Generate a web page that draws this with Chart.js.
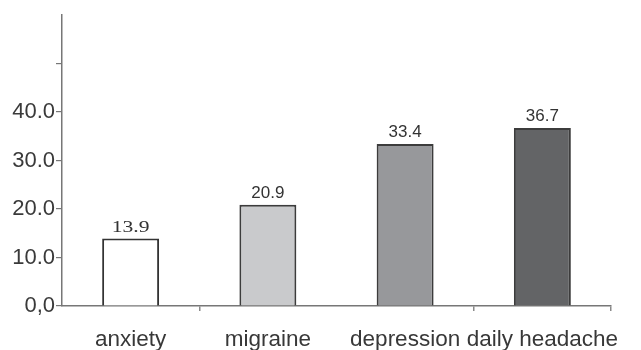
<!DOCTYPE html>
<html>
<head>
<meta charset="utf-8">
<script src="https://cdn.jsdelivr.net/npm/chart.js@4/dist/chart.umd.min.js"></script>
<style>
  html, body { margin: 0; padding: 0; background: #ffffff; }
  #wrap { width: 641px; height: 350px; }
</style>
</head>
<body>
<div id="wrap"><canvas id="chart" width="641" height="350"></canvas></div>
<script>
// Categories and their values
const categories = ['anxiety', 'migraine', 'depression', 'daily headache'];
const prevalence = [13.9, 20.9, 33.4, 36.7];
const valueLabels = ['13.9', '20.9', '33.4', '36.7'];

// Y axis ticks (only the lower five are labelled)
const yTickValues = [0, 10, 20, 30, 40, 50, 60];
const yTickLabels = ['0,0', '10.0', '20.0', '30.0', '40.0', '', ''];

const barFills = ['#ffffff', '#c9cacc', '#97989b', '#636466'];
const barEdges = ['#333333', '#3c3c3c', '#3c3c3c', '#3c3c3c'];
const sansFamily = '"Liberation Sans", Arial, sans-serif';
// The first value label is set in a wide serif face, the rest in sans
const valueStyles = [
  { font: '16px "Liberation Serif", serif', stretch: 1.35 },
  { font: '17px ' + sansFamily, stretch: 1 },
  { font: '17px ' + sansFamily, stretch: 1 },
  { font: '17px ' + sansFamily, stretch: 1 }
];

// Writes each bar's value just above it
const valueLabelPlugin = {
  id: 'valueLabels',
  afterDatasetsDraw(chart) {
    const ctx = chart.ctx;
    const meta = chart.getDatasetMeta(0);
    meta.data.forEach((bar, i) => {
      const st = valueStyles[i];
      ctx.save();
      ctx.fillStyle = '#333333';
      ctx.textAlign = 'center';
      ctx.textBaseline = 'bottom';
      ctx.font = st.font;
      ctx.translate(bar.x, bar.y - 3);
      ctx.scale(st.stretch, 1);
      ctx.fillText(valueLabels[i], 0, 0);
      ctx.restore();
    });
  }
};

new Chart(document.getElementById('chart'), {
  type: 'bar',
  data: {
    labels: categories,
    datasets: [{
      data: prevalence,
      backgroundColor: barFills,
      borderColor: barEdges,
      borderWidth: 2,
      borderSkipped: 'bottom',
      categoryPercentage: 1,
      barPercentage: 0.415
    }]
  },
  options: {
    responsive: false,
    animation: false,
    devicePixelRatio: 1,
    layout: { padding: { top: 15, right: 30, left: 0, bottom: 0 } },
    plugins: {
      legend: { display: false },
      tooltip: { enabled: false }
    },
    scales: {
      x: {
        offset: true,
        border: { display: true, color: '#777777', width: 1.5 },
        grid: {
          offset: true,
          drawOnChartArea: false,
          drawTicks: true,
          tickLength: 5,
          color: (c) => (c.index === 0 || c.index === 2) ? 'rgba(0,0,0,0)' : '#8a8a8a',
          lineWidth: 1.5
        },
        ticks: {
          color: '#383838',
          padding: 15,
          font: { family: sansFamily, size: 22.5 },
          maxRotation: 0,
          autoSkip: false
        },
        afterFit: (scale) => { scale.height = 44; }
      },
      y: {
        min: 0,
        max: 60,
        afterBuildTicks: (scale) => {
          scale.ticks = yTickValues.map(v => ({ value: v }));
        },
        border: { display: true, color: '#777777', width: 1.5 },
        grid: {
          drawOnChartArea: false,
          drawTicks: true,
          tickLength: 6,
          color: (c) => (c.tick && c.tick.value === 60) ? 'rgba(0,0,0,0)' : '#777777',
          lineWidth: 1.2
        },
        ticks: {
          color: '#3a3a3a',
          padding: 1,
          font: { family: sansFamily, size: 22 },
          callback: (value) => yTickLabels[yTickValues.indexOf(value)]
        },
        afterFit: (scale) => { scale.width = 62; }
      }
    }
  },
  plugins: [valueLabelPlugin]
});
</script>
</body>
</html>
